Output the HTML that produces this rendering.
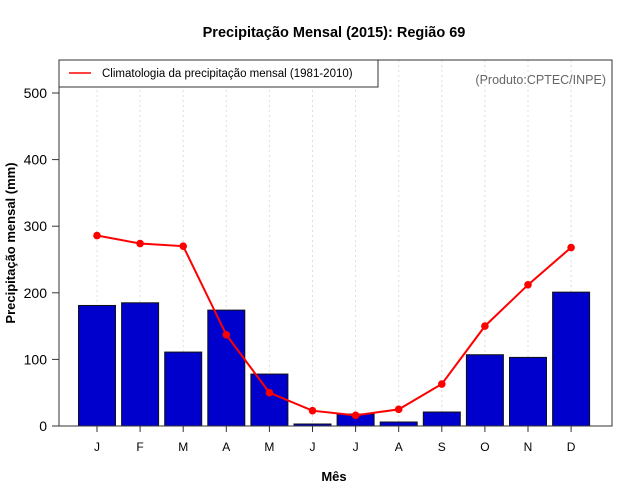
<!DOCTYPE html>
<html><head><meta charset="utf-8"><style>
body{margin:0;background:#fff}
svg{display:block;font-family:"Liberation Sans",sans-serif}
</style></head><body>
<svg id="c" width="640" height="500">
<rect width="640" height="500" fill="#fff"/>
<text x="334" y="37" text-anchor="middle" font-size="14.5" font-weight="bold">Precipitação Mensal (2015): Região 69</text>
<g id="grid"></g><g id="bars"></g><g id="line"></g><g id="axes"></g>
<rect x="59" y="60" width="553" height="366" fill="none" stroke="#333" stroke-width="1"/>
<g>
<rect x="59" y="60" width="319" height="27" fill="#fff" stroke="#333"/>
<line x1="69" y1="73" x2="91" y2="73" stroke="red" stroke-width="1.5"/>
<text x="102" y="77" font-size="11.5">Climatologia da precipitação mensal (1981-2010)</text>
</g>
<text x="606" y="84" text-anchor="end" font-size="12.5" fill="#666">(Produto:CPTEC/INPE)</text>
<text x="334" y="481" text-anchor="middle" font-size="13" font-weight="bold">Mês</text>
<text transform="translate(15,243) rotate(-90)" text-anchor="middle" font-size="13" font-weight="bold">Precipitação mensal (mm)</text>
</svg>
<script>
const months=["J","F","M","A","M","J","J","A","S","O","N","D"];
const observed=[181,185,111,174,78,3,18,6,21,107,103,201];
const climatology=[286,274,270,137,50,23,16,25,63,150,212,268];
const yTicks=[0,100,200,300,400,500];
const NS="http://www.w3.org/2000/svg";
const x=i=>97+i*43.1;
const y=v=>426-v*0.666;
function mk(p,t,a){const e=document.createElementNS(NS,t);for(const k in a)e.setAttribute(k,a[k]);document.getElementById(p).appendChild(e);return e;}
months.forEach((m,i)=>{
 const g=mk("grid","line",{x1:x(i),x2:x(i),y1:60,y2:426,stroke:"#ddd","stroke-dasharray":"2,3"});
 
 
 const b=mk("bars","rect",{x:x(i)-18.5,y:y(observed[i]),width:37,height:426-y(observed[i]),fill:"#0000cc",stroke:"#111","stroke-width":1});
 
 
 const t=mk("axes","line",{x1:x(i),x2:x(i),y1:426,y2:432,stroke:"#333"});
 
 
 const l=mk("axes","text",{x:x(i),y:451,"text-anchor":"middle","font-size":12});
 l.textContent=m;
 
 
});
const pl=mk("line","polyline",{points:climatology.map((v,i)=>x(i)+","+y(v)).join(" "),fill:"none",stroke:"red","stroke-width":2});


climatology.forEach((v,i)=>{
 const c=mk("line","circle",{cx:x(i),cy:y(v),r:3.8,fill:"red"});
 
 
});
yTicks.forEach(v=>{
 const t=mk("axes","line",{x1:52,x2:59,y1:y(v),y2:y(v),stroke:"#333"});
 
 
 const l=mk("axes","text",{x:47,y:y(v)+5,"text-anchor":"end","font-size":14});
 l.textContent=v;
 
 
});
</script>
</body></html>
